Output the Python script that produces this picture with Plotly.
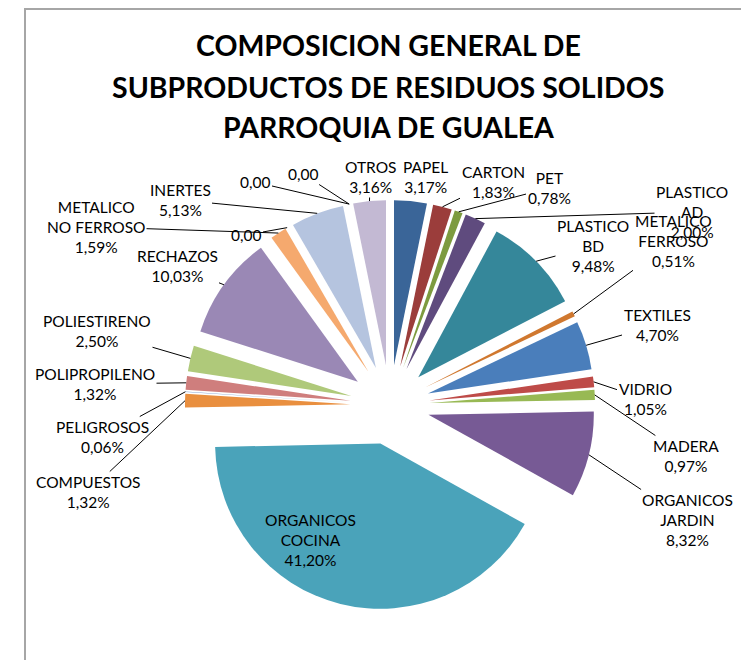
import math
import plotly.graph_objects as go

# ---------------- data ----------------
names = ["PAPEL", "CARTON", "PET", "PLASTICO<br>AD", "PLASTICO<br>BD",
         "METALICO<br>FERROSO", "TEXTILES", "VIDRIO", "MADERA",
         "ORGANICOS<br>JARDIN", "ORGANICOS<br>COCINA", "COMPUESTOS",
         "PELIGROSOS", "POLIPROPILENO", "POLIESTIRENO", "RECHAZOS",
         "METALICO<br>NO FERROSO", "", "INERTES", "", "", "OTROS"]
values = [3.17, 1.83, 0.78, 2.00, 9.48, 0.51, 4.70, 1.05, 0.97, 8.32, 41.20,
          1.32, 0.06, 1.32, 2.50, 10.03, 1.59, 0.00, 5.13, 0.00, 0.00, 3.16]

# ---------------- styles / layout ----------------
colors = ["#3A6598", "#9B3D3B", "#7D9B3F", "#5F4B7E", "#35879A", "#D0782F",
          "#4A7EBB", "#BE4B48", "#98B954", "#775A95", "#4AA3BA", "#E98F3F",
          "#7F9FCF", "#CF7E7D", "#AFC97A", "#9A88B5", "#F5A96E", "#A5B9DC",
          "#B5C4DF", "#C0C0C0", "#D0D0D0", "#C3B9D3"]
# label centres in page pixels (layout choice, as in the original)
label_pos = [(425, 177), (493, 182), (549, 188), (692, 212), (593, 246),
             (673, 241), (657, 325), (645, 399), (686, 456), (687, 520),
             (310, 540), (88, 492), (102, 437), (95, 384), (97, 331),
             (177, 266), (96, 227), (246, 235), (180, 200), (255, 182),
             (303, 174), (370, 177)]
no_leader = {0, 10}
PAGE_OFF = 8          # body margin of the written html page
W, H = 749, 660
PULL = 0.24
DOM_X = [0.2363, 0.7837]
DOM_Y = [0.0879, 0.7091]
FONT = "Lato"

labels_unique = [n if n else " " * (i + 1) for i, n in enumerate(names)]

fig = go.Figure(go.Pie(
    labels=labels_unique, values=values, sort=False, direction="clockwise",
    rotation=0, marker=dict(colors=colors, line=dict(width=0)),
    pull=[PULL] * len(values), textinfo="none", automargin=False,
    showlegend=False, hoverinfo="label+value", domain=dict(x=DOM_X, y=DOM_Y),
))

# pie geometry (same rules plotly uses) -> leader line anchors on slices
bw, bh = W * (DOM_X[1] - DOM_X[0]), H * (DOM_Y[1] - DOM_Y[0])
r = min(bw, bh) / (2 + 2 * PULL)
cx = W * (DOM_X[0] + DOM_X[1]) / 2
cy = H * (1 - (DOM_Y[0] + DOM_Y[1]) / 2)
total = sum(values)
cum = 0.0
for i, (n, v) in enumerate(zip(names, values)):
    theta = 2 * math.pi * (cum + v / 2) / total
    cum += v
    num = ("%.2f" % v).replace(".", ",")
    txt = num if v == 0 else "%s<br>%s%%" % (n, num)
    lx, ly = label_pos[i][0] - PAGE_OFF, label_pos[i][1] - PAGE_OFF
    if i in no_leader:
        fig.add_annotation(text=txt, xref="paper", yref="paper", x=lx / W,
                           y=1 - ly / H, xanchor="center", yanchor="middle",
                           showarrow=False, align="center",
                           font=dict(family=FONT, size=15.5, color="#000000"))
    else:
        ex = cx + r * (1 + PULL) * math.sin(theta)
        ey = cy - r * (1 + PULL) * math.cos(theta)
        fig.add_annotation(text=txt, xref="paper", yref="paper", x=ex / W,
                           y=1 - ey / H, ax=lx - ex, ay=ly - ey,
                           xanchor="center", yanchor="middle", align="center",
                           showarrow=True, arrowhead=0, arrowwidth=1,
                           arrowcolor="#000000", standoff=0, startstandoff=0,
                           font=dict(family=FONT, size=15.5, color="#000000"))

title_lines = ["COMPOSICION GENERAL DE", "SUBPRODUCTOS DE RESIDUOS SOLIDOS",
               "PARROQUIA DE GUALEA"]
title_y = [45, 87, 127]
for t, ty in zip(title_lines, title_y):
    fig.add_annotation(text="<b>%s</b>" % t, xref="paper", yref="paper",
                       x=(388 - PAGE_OFF) / W, y=1 - (ty - PAGE_OFF) / H,
                       xanchor="center", yanchor="middle", showarrow=False,
                       font=dict(family=FONT, size=28.5, color="#000000"))

fig.add_shape(type="rect", xref="paper", yref="paper",
              x0=(25 - PAGE_OFF) / W, x1=1.05, y0=-0.05, y1=1 - 1 / H,
              line=dict(color="#A6A6A6", width=2))

fig.update_layout(width=W, height=H,
                  margin=dict(l=0, r=0, t=0, b=0, autoexpand=False),
                  paper_bgcolor="white", plot_bgcolor="white")
fig.write_html("out.html")
